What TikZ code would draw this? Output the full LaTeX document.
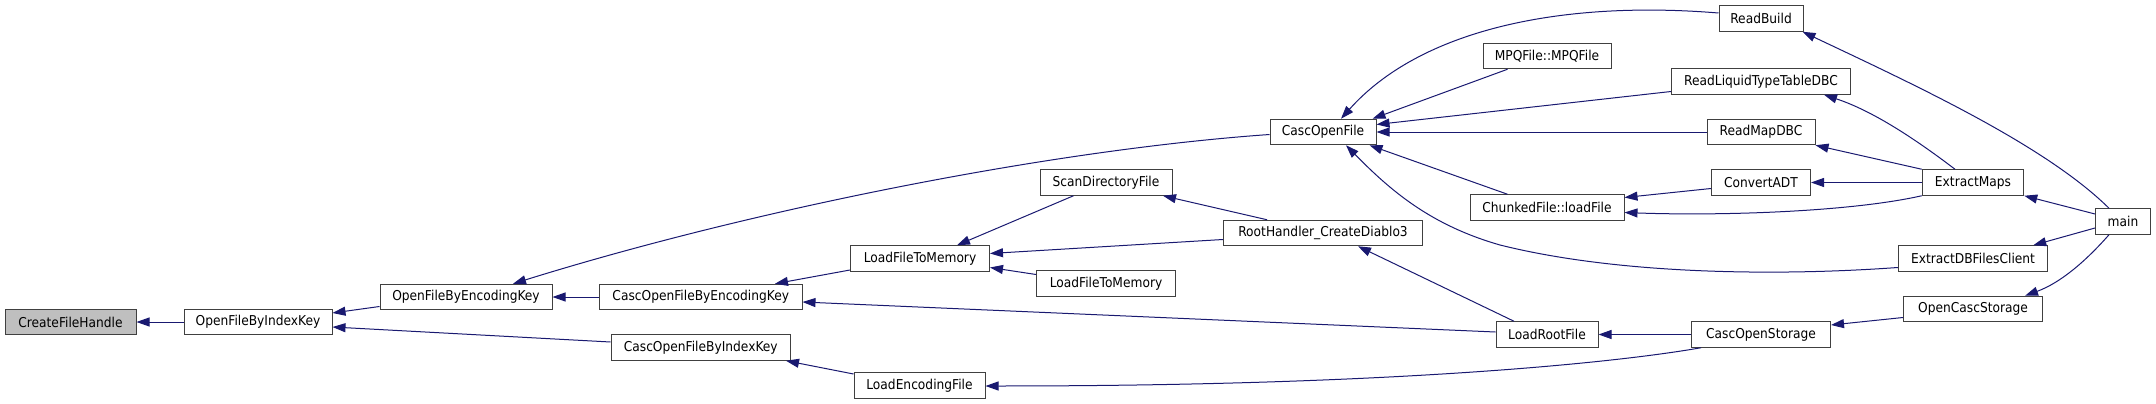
\documentclass[tikz,border=0pt]{standalone}
\usepackage{fontspec}
\setmainfont{DejaVu Sans}[FakeStretch=0.9]
\usetikzlibrary{arrows.meta,calc}
\definecolor{edgeblue}{HTML}{191970}
\definecolor{boxline}{HTML}{404040}
\definecolor{hlgray}{HTML}{BFBFBF}
\begin{document}
\begin{tikzpicture}[x=1pt,y=-1pt,
  fn/.style={draw=boxline, line width=1pt, fill=white, inner sep=0pt,
    minimum height=25.5pt, font=\fontsize{13.6}{16}\selectfont, text=black},
  current/.style={fn, fill=hlgray},
  call/.style={draw=edgeblue, line width=1pt, -{Triangle[length=13pt,width=9pt]}}]
\useasboundingbox (0,0) rectangle (2156,404);
% nodes
\node[current, minimum width=131pt] (cfh) at (70.5,322) {CreateFileHandle};
\node[fn, minimum width=148pt] (ofik) at (258,322) {OpenFileByIndexKey};
\node[fn, minimum width=172pt] (ofek) at (466,297) {OpenFileByEncodingKey};
\node[fn, minimum width=202.5pt] (cofek) at (700.75,297) {CascOpenFileByEncodingKey};
\node[fn, minimum width=179.5pt] (cofik) at (700.75,347.5) {CascOpenFileByIndexKey};
\node[fn, minimum width=139pt] (lftma) at (920,258.5) {LoadFileToMemory};
\node[fn, minimum width=131pt] (lef) at (919.5,385.5) {LoadEncodingFile};
\node[fn, minimum width=132pt] (sdf) at (1106,182.5) {ScanDirectoryFile};
\node[fn, minimum width=139pt] (lftmb) at (1106,283.5) {LoadFileToMemory};
\node[fn, minimum width=106pt] (cof) at (1323,132) {CascOpenFile};
\node[fn, minimum width=199pt] (rh) at (1323,233) {RootHandler\_CreateDiablo3};
\node[fn, minimum width=128pt] (mpq) at (1547,56) {MPQFile::MPQFile};
\node[fn, minimum width=154pt] (chunk) at (1547,207.5) {ChunkedFile::loadFile};
\node[fn, minimum width=102pt] (lrf) at (1547,334.5) {LoadRootFile};
\node[fn, minimum width=84pt] (rb) at (1761,18.5) {ReadBuild};
\node[fn, minimum width=179pt] (rltt) at (1761,81.5) {ReadLiquidTypeTableDBC};
\node[fn, minimum width=108pt] (rmd) at (1761,132) {ReadMapDBC};
\node[fn, minimum width=99pt] (cadt) at (1761,182.5) {ConvertADT};
\node[fn, minimum width=139pt] (cos) at (1761,334.5) {CascOpenStorage};
\node[fn, minimum width=101.5pt] (em) at (1973,182.5) {ExtractMaps};
\node[fn, minimum width=149.5pt] (edb) at (1973,258.5) {ExtractDBFilesClient};
\node[fn, minimum width=139pt] (ocs) at (1973,309) {OpenCascStorage};
\node[fn, minimum width=55pt] (main) at (2123,221.5) {main};
% edges (caller -> callee)
\draw[call] (ofik) -- (cfh);
\draw[call] ($(ofek.west)+(0,9.5)$) -- ($(ofik.east)+(0,-9)$);
\draw[call] ($(cofik.west)+(0,-5.5)$) -- ($(ofik.east)+(0,5)$);
\draw[call] (cofek) -- (ofek);
\draw[call] ($(cof.west)+(0,2.5)$) .. controls (1050,150) and (750,210) .. ($(ofek.north)+(47,0)$);
\draw[call] ($(lftma.west)+(0,11.5)$) -- ($(cofek.north)+(74.25,0)$);
\draw[call] ($(lrf.west)+(0,-2.5)$) -- ($(cofek.east)+(0,5)$);
\draw[call] ($(lef.west)+(0,-11.5)$) -- ($(cofik.south east)+(-5,0)$);
\draw[call] ($(sdf.south)+(-32.5,0)$) -- ($(lftma.north)+(37,0)$);
\draw[call] ($(rh.west)+(0,6.5)$) -- ($(lftma.east)+(0,-5)$);
\draw[call] ($(lftmb.west)+(0,-9)$) -- ($(lftma.east)+(0,9)$);
\draw[call] ($(rh.north)+(-56,0)$) -- ($(sdf.south)+(57,0)$);
\draw[call] ($(lrf.north)+(-33,0)$) -- ($(rh.south)+(35,0)$);
\draw[call] ($(rb.west)+(0,-5.5)$) .. controls (1560,0) and (1420,30) .. ($(cof.north)+(18,0)$);
\draw[call] ($(mpq.south)+(-39.5,0)$) -- ($(cof.north east)+(-4,0)$);
\draw[call] ($(rltt.west)+(0,10)$) -- ($(cof.east)+(0,-7.5)$);
\draw[call] (rmd) -- (cof);
\draw[call] ($(chunk.north)+(-39.5,0)$) -- ($(cof.south east)+(-7,0)$);
\draw[call] ($(edb.west)+(0,9)$) .. controls (1780,276) and (1620,275) .. (1500,245)
   .. controls (1430,225) and (1390,190) .. ($(cof.south)+(23,0)$);
\draw[call] ($(cadt.west)+(0,6)$) -- ($(chunk.east)+(0,-10)$);
\draw[call] (em.south west) .. controls (1850,212) and (1720,216) .. ($(chunk.east)+(0,5)$);
\draw[call] ($(main.north)+(-14,0)$) .. controls (2045,145) and (1915,85) .. ($(rb.south east)+(-1,0)$);
\draw[call] ($(em.north)+(-18,0)$) .. controls (1910,135) and (1870,110) .. ($(rltt.south)+(63,0)$);
\draw[call] (em.north west) -- (rmd.south east);
\draw[call] (em) -- (cadt);
\draw[call] ($(main.west)+(0,-7.5)$) -- (em.south east);
\draw[call] ($(main.west)+(0,6.5)$) -- ($(edb.north east)+(-15,0)$);
\draw[call] ($(main.south)+(-14,0)$) .. controls (2085,262) and (2060,283) .. ($(ocs.north east)+(-18,0)$);
\draw[call] ($(ocs.west)+(0,8.5)$) -- ($(cos.east)+(0,-9.5)$);
\draw[call] (cos) -- (lrf);
\draw[call] ($(cos.south west)+(10,0)$) .. controls (1620,362) and (1400,386) .. ($(lef.east)+(0,0.5)$);
\end{tikzpicture}
\end{document}
